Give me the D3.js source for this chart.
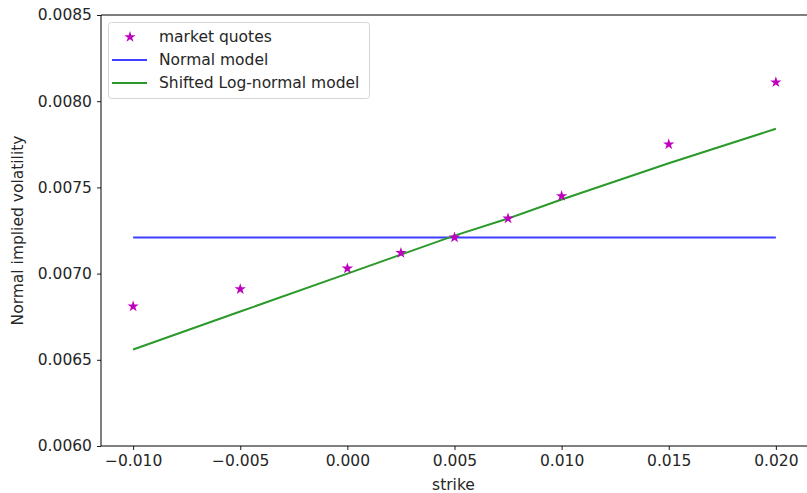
<!DOCTYPE html>
<html>
<head>
<meta charset="utf-8">
<script src="https://cdn.jsdelivr.net/npm/d3@7"></script>
<style>
  html, body { margin: 0; padding: 0; background: #fff; }
  svg { display: block; font-family: "DejaVu Sans", sans-serif; }
</style>
</head>
<body>
<svg id="chart" width="807" height="493"></svg>
<script>
const strikes = [-0.010, -0.005, 0.000, 0.0025, 0.005, 0.0075, 0.010, 0.015, 0.020];
const marketQuotes = [0.00681, 0.00691, 0.00703, 0.00712, 0.00721, 0.00732, 0.00745, 0.00775, 0.00811];
const normalModel = [0.00721, 0.00721, 0.00721, 0.00721, 0.00721, 0.00721, 0.00721, 0.00721, 0.00721];
const shiftedLogNormal = [0.00656, 0.00678, 0.00700, 0.00711, 0.00722, 0.00732, 0.00743, 0.00764, 0.00784];
const xTicks = [-0.010, -0.005, 0.000, 0.005, 0.010, 0.015, 0.020];
const yTicks = [0.0060, 0.0065, 0.0070, 0.0075, 0.0080, 0.0085];
const legendLabels = ["market quotes", "Normal model", "Shifted Log-normal model"];

(function () {
const svg = d3.select("#chart");
const mLeft = 101, mRight = 808, mTop = 15, mBottom = 446;
const FS = 15.5;
const textColor = "#262626";

const x = d3.scaleLinear().domain([-0.0115, 0.0215]).range([mLeft, mRight]);
const y = d3.scaleLinear().domain([0.0060, 0.0085]).range([mBottom, mTop]);

const fmtMinus = s => s.replace("-", "\u2212");

// axes
const xAxis = svg.append("g").attr("transform", `translate(0,${mBottom})`)
  .call(d3.axisBottom(x).tickValues(xTicks).tickSize(4).tickPadding(5)
    .tickFormat(d => fmtMinus(d3.format(".3f")(d))));
const yAxis = svg.append("g").attr("transform", `translate(${mLeft},0)`)
  .call(d3.axisLeft(y).tickValues(yTicks).tickSize(4).tickPadding(5)
    .tickFormat(d => d3.format(".4f")(d)));
[xAxis, yAxis].forEach(g => {
  g.select(".domain").remove();
  g.selectAll("line").attr("stroke", "#000").attr("stroke-width", 0.9);
  g.selectAll("text").attr("fill", textColor).attr("font-size", FS)
    .attr("font-family", "DejaVu Sans, sans-serif");
});

// spines
const sp = svg.append("g").attr("stroke", "#000").attr("stroke-width", 1);
sp.append("line").attr("x1", mLeft).attr("x2", mLeft).attr("y1", mTop).attr("y2", mBottom);
sp.append("line").attr("x1", mLeft).attr("x2", mRight).attr("y1", mBottom).attr("y2", mBottom);
sp.append("line").attr("x1", mLeft).attr("x2", mRight).attr("y1", mTop).attr("y2", mTop);
sp.append("line").attr("x1", mRight).attr("x2", mRight).attr("y1", mTop).attr("y2", mBottom);

// labels
svg.append("text").attr("x", (mLeft + mRight) / 2 - 1).attr("y", 490)
  .attr("text-anchor", "middle").attr("font-size", FS).attr("fill", textColor).text("strike");
svg.append("text").attr("transform", `translate(23,${(mTop + mBottom) / 2}) rotate(-90)`)
  .attr("text-anchor", "middle").attr("font-size", FS).attr("fill", textColor).text("Normal implied volatility");

const line = d3.line().x((d, i) => x(strikes[i])).y(d => y(d));
const blue = "#3f3fff", green = "#2a9a2a", magenta = "#bf00bf";

svg.append("path").datum(normalModel).attr("d", line)
  .attr("fill", "none").attr("stroke", blue).attr("stroke-width", 2);
svg.append("path").datum(shiftedLogNormal).attr("d", line)
  .attr("fill", "none").attr("stroke", green).attr("stroke-width", 2);

const star = d3.symbol().type(d3.symbolStar).size(40);
svg.append("g").selectAll("path").data(marketQuotes).join("path")
  .attr("d", star)
  .attr("transform", (d, i) => `translate(${x(strikes[i])},${y(d)})`)
  .attr("fill", magenta);

// legend
const lg = svg.append("g");
lg.append("rect").attr("x", 108.5).attr("y", 22.5).attr("width", 261).attr("height", 76)
  .attr("rx", 3).attr("fill", "#fff").attr("fill-opacity", 0.85)
  .attr("stroke", "#d5d5d5").attr("stroke-width", 1);
const rows = [37, 60, 83];
lg.append("path").attr("d", star).attr("transform", `translate(130,${rows[0]})`).attr("fill", magenta);
lg.append("line").attr("x1", 112).attr("x2", 147).attr("y1", rows[1]).attr("y2", rows[1])
  .attr("stroke", blue).attr("stroke-width", 2);
lg.append("line").attr("x1", 112).attr("x2", 147).attr("y1", rows[2]).attr("y2", rows[2])
  .attr("stroke", green).attr("stroke-width", 2);
legendLabels.forEach((t, i) => {
  lg.append("text").attr("x", 159).attr("y", rows[i]).attr("dy", "0.35em")
    .attr("font-size", FS).attr("fill", textColor).text(t);
});
})();
</script>
</body>
</html>
